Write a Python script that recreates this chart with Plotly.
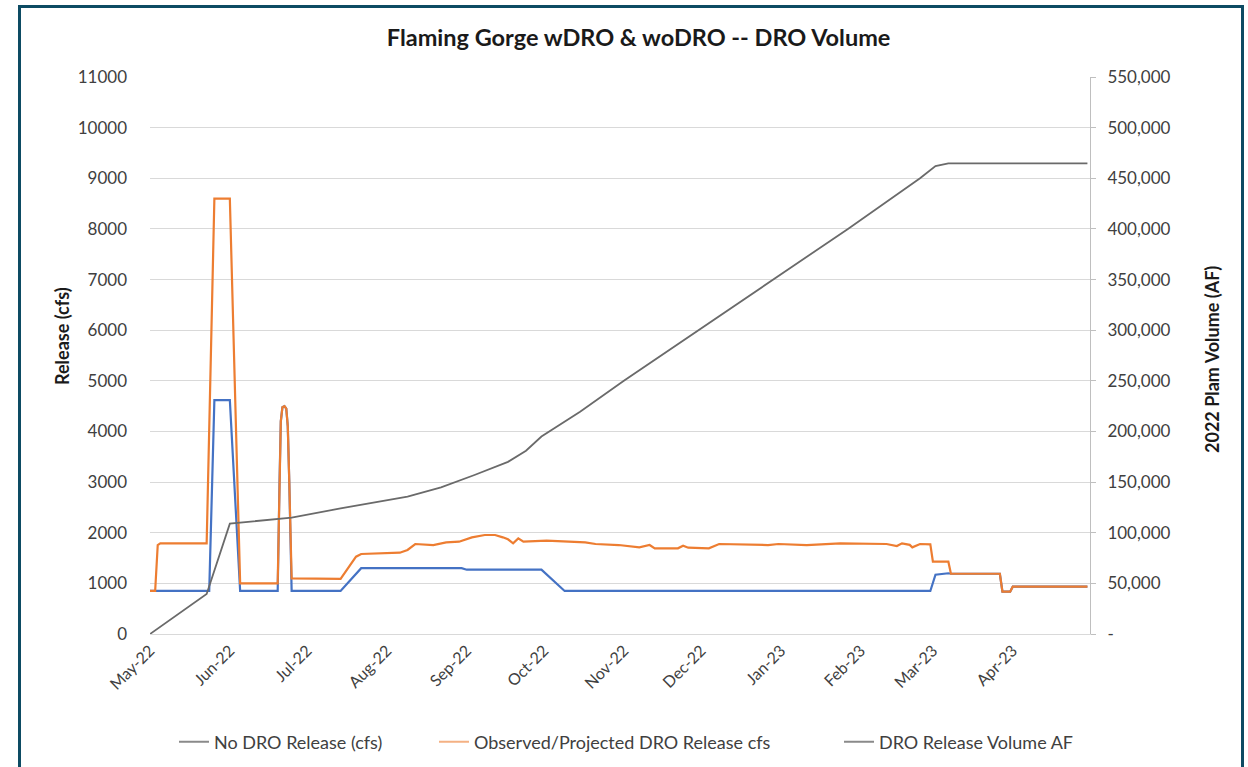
import plotly.graph_objects as go

# ---------------- data ----------------
month_ticks = ["2022-05-01", "2022-06-01", "2022-07-01", "2022-08-01", "2022-09-01", "2022-10-01",
               "2022-11-01", "2022-12-01", "2023-01-01", "2023-02-01", "2023-03-01", "2023-04-01"]
month_labels = ["May-22", "Jun-22", "Jul-22", "Aug-22", "Sep-22", "Oct-22",
                "Nov-22", "Dec-22", "Jan-23", "Feb-23", "Mar-23", "Apr-23"]

dro_dates = ["2022-05-01", "2022-05-03", "2022-05-04", "2022-05-05", "2022-05-23", "2022-05-26",
             "2022-06-01", "2022-06-05", "2022-06-19 14:00", "2022-06-20 07:00", "2022-06-20 19:00",
             "2022-06-21 10:00", "2022-06-22 05:00", "2022-06-22 22:00", "2022-06-23 12:00",
             "2022-06-24 02:00", "2022-06-25", "2022-07-14",
             "2022-07-20", "2022-07-22", "2022-08-06", "2022-08-09", "2022-08-12", "2022-08-19",
             "2022-08-24", "2022-08-29", "2022-09-03", "2022-09-08", "2022-09-12", "2022-09-15",
             "2022-09-17", "2022-09-19", "2022-09-21", "2022-09-23", "2022-10-02", "2022-10-17",
             "2022-10-21", "2022-10-30", "2022-11-04", "2022-11-07", "2022-11-11", "2022-11-13",
             "2022-11-22", "2022-11-24", "2022-11-26", "2022-12-04", "2022-12-08", "2022-12-27",
             "2022-12-31", "2023-01-11", "2023-01-24", "2023-02-11", "2023-02-15", "2023-02-17",
             "2023-02-20", "2023-02-21", "2023-02-24", "2023-02-28", "2023-03-01", "2023-03-07",
             "2023-03-08", "2023-03-27", "2023-03-28", "2023-03-31", "2023-04-01", "2023-04-30"]
dro_cfs = [850, 850, 1757, 1790, 1790, 8600,
           8600, 1000, 1000, 3000, 4200,
           4480, 4500, 4450, 4100,
           3000, 1100, 1090,
           1527, 1580, 1606, 1659, 1777, 1757,
           1810, 1823, 1909, 1955, 1955, 1909,
           1870, 1790, 1889, 1823, 1843, 1810,
           1777, 1757, 1724, 1711, 1757, 1692,
           1692, 1744, 1704, 1692, 1777, 1757,
           1777, 1757, 1790, 1777, 1737, 1790,
           1760, 1711, 1777, 1770, 1428, 1428,
           1190, 1190, 835, 835, 934, 934]

nodro_dates = ["2022-05-01", "2022-05-24", "2022-05-26", "2022-06-01", "2022-06-05",
               "2022-06-19 14:00", "2022-06-20 07:00", "2022-06-20 19:00", "2022-06-21 10:00",
               "2022-06-22 05:00", "2022-06-22 22:00", "2022-06-23 12:00", "2022-06-24 02:00",
               "2022-06-25", "2022-07-14", "2022-07-22",
               "2022-08-30", "2022-09-01", "2022-09-30", "2022-10-09", "2023-02-28", "2023-03-02",
               "2023-03-07", "2023-03-08", "2023-03-27", "2023-03-28", "2023-03-31", "2023-04-01",
               "2023-04-30"]
nodro_cfs = [850, 850, 4620, 4620, 850,
             850, 3000, 4200, 4480,
             4500, 4450, 4100, 3000,
             850, 850, 1300,
             1300, 1270, 1270, 850, 850, 1170,
             1200, 1190, 1190, 835, 835, 934,
             934]

vol_dates = ["2022-05-01", "2022-05-23", "2022-06-01", "2022-06-10", "2022-06-25", "2022-07-14",
             "2022-08-09", "2022-08-22", "2022-09-04", "2022-09-17", "2022-09-24", "2022-09-30",
             "2022-10-06", "2022-10-15", "2022-11-01", "2022-11-30", "2022-12-29", "2023-01-27",
             "2023-02-24", "2023-03-02", "2023-03-07", "2023-04-30"]
vol_af = [0, 39500, 109000, 111000, 115000, 124000,
          135600, 144800, 157000, 170000, 181000, 195000,
          204700, 219500, 250000, 300000, 350000, 400000,
          450000, 462000, 464700, 464700]

left_ticks = list(range(0, 11001, 1000))
right_ticks = list(range(0, 550001, 50000))
right_labels = ["-"] + [f"{v:,}" for v in right_ticks[1:]]

legend_names = ["No DRO Release (cfs)", "Observed/Projected DRO Release cfs", "DRO Release Volume AF"]

# ---------------- figure ----------------
FONT = "Lato"
TXT = "#404040"
DARK = "#1a1a1a"

fig = go.Figure()

fig.add_trace(go.Scatter(x=nodro_dates, y=nodro_cfs, mode="lines", name=legend_names[0],
                         line=dict(color="#4472C4", width=2.2), showlegend=False))
fig.add_trace(go.Scatter(x=dro_dates, y=dro_cfs, mode="lines", name=legend_names[1],
                         line=dict(color="#ED7D31", width=2.2), showlegend=False))
fig.add_trace(go.Scatter(x=vol_dates, y=vol_af, mode="lines", name=legend_names[2],
                         line=dict(color="#6a6a6a", width=1.8), yaxis="y2", showlegend=False))

# legend entries (as shown in the reference legend)
legend_colors = ["#8a8a8a", "#F4B183", "#8a8a8a"]
for i, (nm, col) in enumerate(zip(legend_names, legend_colors)):
    fig.add_trace(go.Scatter(x=[None], y=[None], mode="lines", name=nm,
                             line=dict(color=col, width=2),
                             legend="legend" if i == 0 else f"legend{i + 1}"))

W, H = 1248, 767
L, R, T, B = 150, 158, 77, 133
pw, ph = W - L - R, H - T - B


def px_x(x):
    return (x - L) / pw


def px_y(y):
    return (H - B - y) / ph


def leg(xpx):
    return dict(orientation="h", xref="container", yref="container",
                x=xpx / W, xanchor="left", y=1 - 742 / H, yanchor="middle",
                font=dict(family=FONT, size=18, color=TXT), bgcolor="rgba(0,0,0,0)")


fig.update_layout(
    width=W, height=H,
    margin=dict(l=L, r=R, t=T, b=B, autoexpand=False),
    paper_bgcolor="white", plot_bgcolor="white",
    font=dict(family=FONT, size=16, color=TXT),
    title=dict(text="<b>Flaming Gorge wDRO &amp; woDRO -- DRO Volume</b>",
               x=px_x(631), xanchor="center", y=1 - 38 / H, yanchor="middle",
               font=dict(family=FONT, size=23.5, color=DARK)),
    xaxis=dict(type="date", range=["2022-05-01", "2023-05-01"], automargin=False,
               tickvals=month_ticks, ticktext=month_labels, tickangle=-45,
               tickfont=dict(size=16, color=TXT), showgrid=False, zeroline=False,
               showline=True, linecolor="#d9d9d9", linewidth=1, ticks=""),
    yaxis=dict(range=[0, 11000], tickvals=left_ticks, ticktext=[str(v) for v in left_ticks],
               automargin=False,
               showgrid=True, gridcolor="#d9d9d9", gridwidth=1, zeroline=False,
               showline=False, ticks="", ticklabelstandoff=22,
               tickfont=dict(size=17, color=TXT)),
    yaxis2=dict(range=[0, 550000], overlaying="y", side="right", tickvals=right_ticks,
                ticktext=right_labels, showgrid=False, zeroline=False, automargin=False,
                showline=True, linecolor="#bfbfbf", linewidth=1,
                ticks="outside", ticklen=5, tickcolor="#bfbfbf", ticklabelstandoff=8,
                tickfont=dict(size=17, color=TXT)),
    legend=leg(174),
    legend2=leg(434),
    legend3=leg(839),
    annotations=[
        dict(text="<b>Release (cfs)</b>", textangle=-90, xref="paper", yref="paper",
             x=px_x(62), y=px_y(336), xanchor="center", yanchor="middle", showarrow=False,
             font=dict(family=FONT, size=18, color=DARK)),
        dict(text="<b>2022 Plam Volume (AF)</b>", textangle=-90, xref="paper", yref="paper",
             x=px_x(1212), y=px_y(360), xanchor="center", yanchor="middle", showarrow=False,
             font=dict(family=FONT, size=18, color=DARK)),
    ],
    shapes=[dict(type="rect", xref="paper", yref="paper",
                 x0=px_x(19.5), x1=px_x(1242.5), y0=px_y(790), y1=px_y(6.5),
                 line=dict(color="#0d4b63", width=3), fillcolor="rgba(0,0,0,0)", layer="below")],
)

fig.write_html("out.html", config={"displayModeBar": False},
               post_script="document.body.style.margin='0';")
